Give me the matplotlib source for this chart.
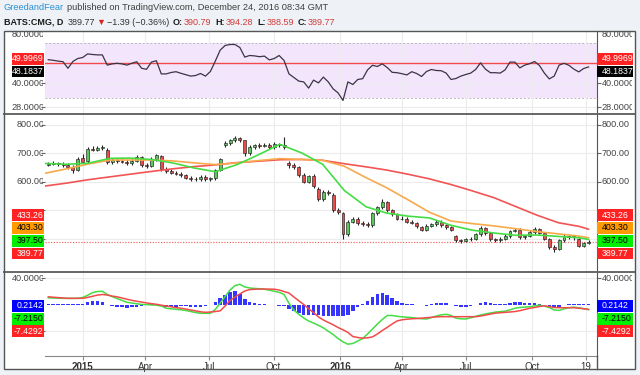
import numpy as np
import pandas as pd
import matplotlib
matplotlib.use("Agg")
import matplotlib.pyplot as plt
from matplotlib.patches import Rectangle
from matplotlib.lines import Line2D
from matplotlib.transforms import Bbox, TransformedBbox, blended_transform_factory

plt.rcParams['font.family'] = ['Liberation Sans', 'DejaVu Sans']

W, H = 640, 375

############## data (weekly bars, week ending Friday)
week_first, week_last = '2014-11-14', '2016-12-23'

opens = [660, 663, 665, 662, 658, 652, 642, 682, 672, 716,
         712, 718, 712, 668, 676, 672, 670, 666, 674, 685,
         660, 655, 680, 690, 645, 638, 632, 628, 622, 614,
         610, 609, 618, 608, 612, 642, 728, 735, 745, 752,
         745, 700, 722, 728, 725, 730, 722, 732, 728, 665,
         660, 650, 625, 600, 620, 575, 540, 565, 555, 500,
         490, 415, 460, 470, 455, 450, 448, 490, 510, 530,
         500, 485, 470, 470, 460, 455, 440, 432, 445, 450,
         460, 448, 440, 410, 395, 392, 398, 400, 415, 438,
         420, 398, 396, 400, 410, 428, 432, 405, 410, 425,
         435, 420, 400, 370, 365, 395, 410, 405, 400, 375,
         385]
highs = [669, 671, 670, 668, 665, 658, 688, 698, 722, 724,
         726, 728, 718, 682, 680, 678, 676, 680, 692, 690,
         666, 686, 696, 694, 652, 644, 638, 633, 627, 620,
         616, 624, 622, 617, 646, 684, 742, 750, 760, 758,
         748, 727, 733, 734, 736, 734, 738, 737, 758, 672,
         666, 654, 630, 625, 626, 580, 571, 570, 560, 506,
         495, 466, 476, 475, 462, 458, 495, 516, 538, 534,
         504, 490, 478, 475, 466, 460, 446, 450, 456, 466,
         464, 452, 444, 414, 400, 404, 406, 420, 443, 442,
         424, 402, 405, 415, 432, 436, 436, 414, 430, 440,
         439, 424, 404, 378, 400, 415, 414, 412, 404, 390,
         396]
lows = [654, 657, 656, 652, 646, 632, 636, 664, 666, 706,
        706, 712, 662, 662, 666, 664, 660, 660, 668, 652,
        648, 650, 674, 638, 632, 626, 622, 616, 608, 604,
        603, 604, 602, 602, 606, 636, 722, 730, 740, 740,
        690, 694, 716, 718, 720, 716, 716, 720, 714, 648,
        644, 618, 594, 594, 578, 532, 534, 552, 492, 486,
        400, 408, 455, 448, 444, 440, 442, 484, 504, 494,
        478, 464, 464, 454, 450, 438, 426, 428, 440, 445,
        442, 435, 426, 388, 386, 388, 392, 396, 410, 414,
        392, 390, 390, 396, 404, 422, 400, 400, 405, 418,
        415, 394, 364, 355, 360, 390, 400, 396, 370, 372,
        380]
closes = [663, 665, 662, 658, 652, 640, 680, 670, 716, 712,
          718, 722, 668, 676, 672, 670, 666, 674, 685, 660,
          655, 680, 692, 645, 638, 632, 628, 622, 614, 610,
          609, 618, 608, 612, 640, 680, 735, 745, 752, 748,
          700, 722, 728, 725, 730, 722, 732, 728, 722, 660,
          650, 625, 600, 620, 585, 540, 565, 560, 500, 495,
          415, 460, 470, 455, 450, 448, 490, 510, 530, 500,
          485, 470, 470, 460, 455, 445, 432, 445, 450, 460,
          448, 440, 432, 395, 392, 398, 400, 415, 438, 420,
          398, 396, 400, 410, 428, 432, 405, 410, 425, 435,
          420, 400, 370, 365, 395, 410, 405, 408, 375, 385,
          389.77]

ma_dates = ['2014-11-10', '2014-12-10', '2015-01-10', '2015-02-10', '2015-03-10',
            '2015-04-10', '2015-05-10', '2015-06-10', '2015-07-10', '2015-08-10',
            '2015-09-10', '2015-10-10', '2015-11-10', '2015-12-10', '2016-01-10',
            '2016-02-10', '2016-03-10', '2016-04-10', '2016-05-10', '2016-06-10',
            '2016-07-10', '2016-08-10', '2016-09-10', '2016-10-10', '2016-11-10',
            '2016-12-10', '2016-12-23']
sma50 = [664, 661, 665, 682, 683, 678, 666, 648, 635, 660, 695, 731, 701, 661,
         569, 512, 490, 479, 473, 447, 430, 420, 412, 413, 408, 403, 397.50]
sma100 = [630, 645, 662, 676, 676, 676, 673, 666, 660, 666, 674, 681, 678, 675,
          654, 614, 579, 536, 493, 462, 453, 445, 435, 425, 417, 409, 403.30]
sma200 = [585, 595, 607, 617, 626, 636, 645, 653, 659, 667, 672, 677, 678, 675,
          663, 652, 641, 626, 610, 590, 568, 544, 513, 483, 456, 443, 433.26]

rsi = [51.8, 51.5, 51.1, 50.8, 47.5, 50.9, 52.4, 52.9, 54.7, 54.4,
       54.2, 54.2, 49.1, 49.7, 50.0, 49.7, 49.1, 50.0, 50.8, 47.5,
       47.0, 50.6, 51.3, 44.7, 44.7, 45.4, 45.8, 45.0, 44.3, 43.6,
       43.9, 44.9, 43.6, 45.9, 51.1, 56.6, 58.9, 59.4, 59.4, 57.9,
       53.1, 53.9, 53.7, 53.3, 53.6, 51.7, 52.4, 53.9, 51.4, 44.7,
       42.9, 41.1, 40.7, 37.6, 41.6, 40.2, 43.1, 40.7, 37.2, 35.2,
       31.4, 40.7, 39.4, 41.9, 42.3, 46.7, 49.0, 48.4, 49.7, 47.9,
       45.5, 45.3, 44.8, 44.2, 45.8, 44.9, 43.4, 45.9, 46.9, 46.4,
       46.3, 45.1, 41.9, 42.4, 43.6, 44.4, 45.1, 46.9, 50.2, 47.1,
       45.3, 45.3, 45.1, 46.7, 50.6, 50.6, 47.7, 49.1, 49.8, 50.9,
       48.9, 45.1, 42.2, 43.6, 49.1, 50.0, 49.0, 47.1, 45.7, 47.4,
       48.1837]
rsi_mid = 49.9969
rsi_band = (32.5, 60.3)

macd = [10.3, 10.0, 9.7, 9.5, 9.5, 9.5, 9.5, 10.8, 14.1, 18.2,
        19.8, 20.2, 15.3, 12.1, 9.2, 6.4, 3.5, 2.4, 1.2, 0.3,
        0.0, -0.5, -0.9, -2.1, -5.5, -6.4, -7.1, -7.9, -8.9, -10.5,
        -12.0, -13.2, -13.2, -13.2, -7.4, 2.4, 12.3, 22.1, 28.8, 30.8,
        26.7, 25.2, 24.5, 24.1, 23.3, 21.8, 20.3, 18.6, 15.3, 2.0,
        -8.2, -14.7, -20.3, -24.8, -27.9, -31.4, -35.2, -40.3, -45.3, -51.4,
        -56.4, -60.0, -58.9, -55.2, -51.4, -44.5, -37.0, -29.4, -22.6, -16.5,
        -16.5, -17.7, -18.5, -19.1, -19.7, -20.6, -21.4, -21.8, -19.7, -17.3,
        -15.5, -14.7, -16.5, -20.6, -21.5, -21.8, -20.0, -17.7, -15.8, -14.1,
        -12.7, -11.4, -10.6, -10.0, -7.9, -5.5, -4.4, -3.8, -3.2, -2.0,
        -0.8, -2.4, -4.4, -8.2, -8.8, -6.4, -4.8, -3.8, -5.0, -6.3,
        -7.2150]
signal = [11.8, 11.2, 10.6, 10.0, 9.5, 9.5, 9.5, 9.5, 10.9, 12.6,
          14.4, 15.3, 14.5, 12.9, 11.8, 10.0, 8.2, 6.5, 5.0, 3.9,
          2.6, 1.4, 0.5, -0.9, -2.1, -3.3, -4.5, -5.5, -6.7, -8.2,
          -9.5, -10.9, -11.7, -11.2, -10.5, -9.4, -2.1, 6.2, 11.5, 16.1,
          20.6, 22.7, 23.3, 23.6, 23.6, 23.5, 23.3, 22.1, 19.7, 17.6,
          11.5, 5.8, 0.2, -6.1, -12.1, -18.6, -23.3, -27.0, -30.6, -34.7,
          -38.2, -42.1, -48.3, -49.8, -50.9, -50.3, -48.9, -44.5, -39.2, -34.5,
          -29.4, -24.8, -23.0, -22.1, -21.5, -21.1, -20.5, -19.8, -19.2, -18.6,
          -18.3, -18.3, -18.3, -18.3, -18.3, -18.3, -18.3, -18.3, -17.3, -15.9,
          -14.4, -13.0, -12.3, -11.7, -11.2, -10.5, -9.2, -7.4, -5.6, -4.4,
          -2.9, -1.8, -3.0, -4.4, -4.7, -4.7, -4.7, -4.7, -5.5, -6.1,
          -7.4292]
hist = [0.5, 0.6, 0.8, 0.5, 0.3, 0.4, 0.6, 1.5, 4.0, 6.0,
        5.5, 4.0, -1.0, -2.0, -3.0, -3.5, -4.5, -4.0, -3.5, -1.5,
        1.0, 2.0, 1.0, -1.5, -3.0, -3.5, -3.0, -2.5, -2.5, -3.0,
        -3.0, -3.0, -2.0, -1.0, 4.0, 10.0, 15.0, 19.0, 20.0, 16.0,
        8.0, 4.0, 2.0, 1.5, 0.5, -0.5, -1.0, -1.5, -2.5, -6.0,
        -10.0, -13.0, -15.0, -16.0, -16.0, -16.0, -17.0, -17.0, -17.0, -17.0,
        -18.0, -15.0, -9.0, -4.0, 0.5, 6.0, 12.0, 16.0, 17.0, 15.0,
        10.0, 6.0, 3.0, 1.0, 0.5, 0.0, -1.0, -1.5, 1.5, 2.0,
        2.5, 2.0, -1.0, -2.5, -3.0, -3.0, -2.0, -0.5, 2.5, 3.5,
        3.0, 1.5, 1.0, 1.5, 2.5, 4.0, 4.0, 3.0, 2.5, 2.5,
        1.5, -1.0, -3.0, -4.5, -3.0, -0.5, 0.5, 1.0, 0.8, 0.4,
        0.2142]

tick_dates = ['2015-01-02', '2015-04-01', '2015-07-01', '2015-10-01', '2016-01-04',
              '2016-04-01', '2016-07-01', '2016-10-03', '2016-12-19']
tick_text = ['2015', 'Apr', 'Jul', 'Oct', '2016', 'Apr', 'Jul', 'Oct', '19']

weeks = pd.date_range(week_first, week_last, freq='W-FRI')
o, h, l, c = map(np.array, (opens, highs, lows, closes))
ma_x = pd.to_datetime(ma_dates)

RED, ORANGE, GREEN, BLUE = '#ff2222', '#ff9a00', '#00ee00', '#0000ff'


def frac(x0, y0, x1, y1):
    return [x0 / W, 1 - y1 / H, (x1 - x0) / W, (y1 - y0) / H]


fig = plt.figure(figsize=(W / 100, H / 100), dpi=100, facecolor='#eef2f6')
fig.add_artist(Rectangle((4 / W, 1 - 369 / H), 631 / W, 338 / H, transform=fig.transFigure,
                         facecolor='white', edgecolor='none', zorder=-5))

ax_rsi = fig.add_axes(frac(45, 31, 596.7, 114))
ax_px = fig.add_axes(frac(45, 114, 596.7, 271.7), sharex=ax_rsi)
ax_md = fig.add_axes(frac(45, 271.7, 596.7, 355.7), sharex=ax_rsi)

for ax in (ax_rsi, ax_px, ax_md):
    ax.set_facecolor('none')
    for s in ('top', 'left', 'bottom'):
        ax.spines[s].set_visible(False)
    ax.spines['right'].set_color('#555555')
    ax.yaxis.set_ticks_position('both')
    ax.tick_params(axis='y', direction='out', length=3, width=0.8, color='#666666',
                   labelleft=False, labelright=False)
    ax.grid(True, color='#ececec', lw=0.8)
    ax.set_axisbelow(True)

ax_md.spines['bottom'].set_visible(True)
ax_md.spines['bottom'].set_color('#888888')

ax_rsi.set_xlim(pd.Timestamp('2014-11-09 07:00'), pd.Timestamp('2017-01-03 14:00'))
ax_md.set_xticks(pd.to_datetime(tick_dates))
for lbl in ax_md.set_xticklabels(tick_text):
    if lbl.get_text() in ('2015', '2016'):
        lbl.set_fontweight('bold')
ax_md.tick_params(axis='x', length=3, width=0.8, color='#888888', labelsize=7,
                  labelcolor='#333333', pad=1.5)
for ax in (ax_rsi, ax_px):
    ax.tick_params(axis='x', length=0, labelbottom=False)

# RSI
ax_rsi.set_ylim(24.65, 66.15)
ax_rsi.set_yticks([28, 40])
ax_rsi.axhspan(*rsi_band, color='#f3e6fc', lw=0, zorder=0.2)
for b in rsi_band:
    ax_rsi.axhline(b, color='#b8b8b8', lw=0.7, ls=(0, (2, 2)), zorder=0.3)
ax_rsi.axhline(rsi_mid, color='#f24a4a', lw=1.0, zorder=2)
ax_rsi.plot(weeks, rsi, color='#3c3347', lw=0.9, zorder=3)

# price
ax_px.set_ylim(284.2, 837.5)
ax_px.set_yticks([400, 500, 600, 700, 800])
ax_px.axhline(c[-1], color='#f27070', lw=0.9, ls=(0, (1, 1.2)), zorder=1.5)
up = c >= o
ax_px.vlines(weeks, l, h, color='#222222', lw=0.8, zorder=2)
ax_px.bar(weeks, np.maximum(np.abs(c - o), 0.8), bottom=np.minimum(o, c), width=4.2,
          color=np.where(up, '#5cc85c', '#ea4b4b'), edgecolor='#222222', linewidth=0.45, zorder=2.5)
ax_px.plot(ma_x, sma200, color='#f25454', lw=1.2, zorder=3)
ax_px.plot(ma_x, sma100, color='#f8a94c', lw=1.2, zorder=3)
ax_px.plot(ma_x, sma50, color='#44dd44', lw=1.2, zorder=3)

# MACD
ax_md.set_ylim(-77.4, 49.85)
ax_md.set_yticks([-40, 40])
ax_md.bar(weeks, hist, width=5, color='#3535ff', linewidth=0, zorder=2)
ax_md.plot(weeks, macd, color='#44dd44', lw=1.1, zorder=3)
ax_md.plot(weeks, signal, color='#f24a4a', lw=1.1, zorder=3)


# scale labels on both sides, clipped like the price scale columns
def side_labels(ax, top_px, bot_px, values, fmt):
    tr = blended_transform_factory(fig.transFigure, ax.transData)
    clip_l = TransformedBbox(Bbox.from_extents(4 / W, 1 - bot_px / H, 43.3 / W, 1 - top_px / H), fig.transFigure)
    clip_r = TransformedBbox(Bbox.from_extents(599 / W, 1 - bot_px / H, 632 / W, 1 - top_px / H), fig.transFigure)
    for v in values:
        for x, ha, clip in ((44.5, 'right', clip_l), (601.5, 'left', clip_r)):
            t = fig.text(x / W, v, fmt.format(v), transform=tr, ha=ha, va='center',
                         fontsize=6.6, color='#444444')
            t.set_clip_box(clip)
            t.set_clip_on(True)
    return clip_l, clip_r


cl, cr = side_labels(ax_rsi, 31, 114, [28, 40], '{:.4f}')
tr_top = blended_transform_factory(fig.transFigure, ax_rsi.transAxes)
for x, ha, clip in ((44.5, 'right', cl), (601.5, 'left', cr)):
    t = fig.text(x / W, 0.952, '80.0000', transform=tr_top, ha=ha, va='center', fontsize=6.6, color='#444444')
    t.set_clip_box(clip)
    t.set_clip_on(True)
# 400/500 and -40 labels sit behind the last-value boxes, so only the visible ones are drawn
side_labels(ax_px, 114, 271.7, [600, 700, 800], '{:.2f}')
side_labels(ax_md, 271.7, 355.7, [40], '{:.4f}')


# last-value boxes
def value_boxes(first_px, items):
    for i, (txt, fc, tc) in enumerate(items):
        yc = first_px + i * 12.7
        for x0, x1, tx, ha in ((12, 44, 43.2, 'right'), (596.7, 632.7, 601.5, 'left')):
            fig.add_artist(Rectangle((x0 / W, 1 - (yc + 5.9) / H), (x1 - x0) / W, 11.8 / H,
                                     transform=fig.transFigure, facecolor=fc, edgecolor='none', zorder=6))
            fig.text(tx / W, 1 - yc / H, txt, ha=ha, va='center', fontsize=6.3, color=tc, zorder=7)


value_boxes(215.3, [(f'{sma200[-1]:.2f}', RED, 'white'), (f'{sma100[-1]:.2f}', ORANGE, 'black'),
                    (f'{sma50[-1]:.2f}', GREEN, 'black'), (f'{closes[-1]:.2f}', RED, 'white')])
value_boxes(58.7, [(f'{rsi_mid:.4f}', RED, 'white'), (f'{rsi[-1]:.4f}', 'black', 'white')])
value_boxes(306.0, [(f'{hist[-1]:.4f}', BLUE, 'white'), (f'{macd[-1]:.4f}', GREEN, 'black'),
                    (f'{signal[-1]:.4f}', RED, 'white')])

# frame and separators
for yp in (114, 271.7):
    fig.add_artist(Line2D([4 / W, 635 / W], [1 - yp / H] * 2, transform=fig.transFigure,
                          color='#666666', lw=1.4, zorder=8))
fig.add_artist(Line2D([596.7 / W] * 2, [1 - 355.7 / H, 1 - 369 / H], transform=fig.transFigure,
                      color='#555555', lw=1, zorder=8))
fig.add_artist(Rectangle((4 / W, 1 - 369 / H), 631 / W, 338 / H, transform=fig.transFigure,
                         fill=False, edgecolor='#555555', lw=1, zorder=8))


# header
def header_line(parts, x_px, bottom_px, size):
    txt, col, wt, gap = parts[0]
    prev = fig.text(x_px / W, 1 - bottom_px / H, txt, color=col, fontweight=wt,
                    fontsize=size, va='bottom', ha='left')
    for txt, col, wt, gap in parts[1:]:
        prev = ax_rsi.annotate(txt, xy=(1, 0), xycoords=prev, xytext=(gap * 0.72, 0),
                               textcoords='offset points', color=col, fontweight=wt,
                               fontsize=size, va='bottom', ha='left',
                               annotation_clip=False, clip_on=False)


VAL = '#d43a3a'
header_line([('GreedandFear', '#2b8fd6', 'normal', 0),
             ('published on TradingView.com, December 24, 2016 08:34 GMT', '#404040', 'normal', 2.5)],
            4, 12.5, 6.7)
header_line([('BATS:CMG, D', '#1a1a1a', 'bold', 0),
             ('389.77', '#333333', 'normal', 4.0),
             ('\u25bc', '#e02020', 'normal', 1.2),
             ('\u22121.39 (\u22120.36%)', '#333333', 'normal', 2.1),
             ('O:', '#1a1a1a', 'bold', 3.4), ('390.79', VAL, 'normal', 1),
             ('H:', '#1a1a1a', 'bold', 4.0), ('394.28', VAL, 'normal', 1),
             ('L:', '#1a1a1a', 'bold', 3.7), ('388.59', VAL, 'normal', 1),
             ('C:', '#1a1a1a', 'bold', 3.7), (f'{closes[-1]:.2f}', VAL, 'normal', 1)],
            4, 27, 6.45)

fig.savefig('out.png', dpi=100, facecolor=fig.get_facecolor())
